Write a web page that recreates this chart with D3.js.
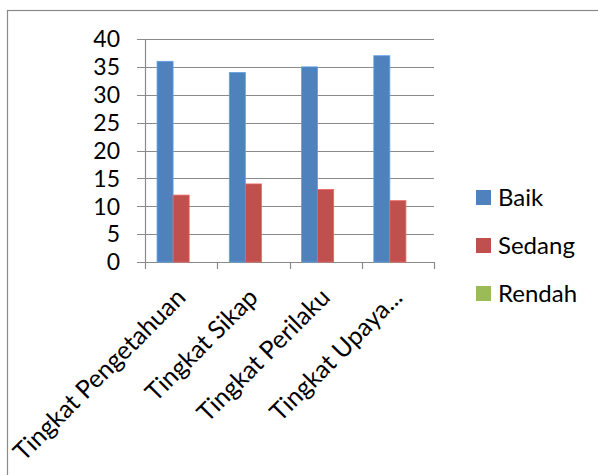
<!DOCTYPE html>
<html><head><meta charset="utf-8">
<script src="https://cdn.jsdelivr.net/npm/d3@7"></script>
<style>html,body{margin:0;padding:0;background:#fff;}svg{display:block;font-family:Lato,"Open Sans",sans-serif;}</style>
</head><body>
<svg id="c" width="598" height="475"></svg>
<script>
const categories = ["Tingkat Pengetahuan", "Tingkat Sikap", "Tingkat Perilaku", "Tingkat Upaya..."];
const seriesNames = ["Baik", "Sedang", "Rendah"];
const baik = [36, 34, 35, 37];
const sedang = [12, 14, 13, 11];
const rendah = [0, 0, 0, 0];
const yTicks = [0, 5, 10, 15, 20, 25, 30, 35, 40];
const colors = ["#4F81BD", "#C0504D", "#9BBB59"];
const seriesValues = [baik, sedang, rendah];

const svg = d3.select("#c");
const pLeft = 145, pRight = 434, pTop = 39, pBottom = 262;
const axisColor = "#8a8a8a";

// chart border (clipped at right/bottom)
svg.append("rect").attr("x", 7.5).attr("y", 10.5).attr("width", 700).attr("height", 600)
  .attr("fill", "none").attr("stroke", axisColor).attr("stroke-width", 1.2);

const x0 = d3.scaleBand().domain(categories).range([pLeft, pRight]).paddingInner(0).paddingOuter(0);
const bw = x0.bandwidth();
const x1 = d3.scaleBand().domain(seriesNames).range([0, bw]).paddingInner(0).paddingOuter(0.75);
const y = d3.scaleLinear().domain([0, 40]).range([pBottom, pTop]);

// gridlines
svg.append("g").selectAll("line").data(yTicks).join("line")
  .attr("x1", pLeft - 8).attr("x2", pRight)
  .attr("y1", d => Math.round(y(d)) + 0.5).attr("y2", d => Math.round(y(d)) + 0.5)
  .attr("stroke", axisColor).attr("stroke-width", 1.2);

// y labels
svg.append("g").selectAll("text").data(yTicks).join("text")
  .attr("x", 120).attr("y", d => y(d)).attr("dy", "0.36em")
  .attr("text-anchor", "end").attr("font-size", 23).attr("fill", "#000")
  .text(d => d);

// bars
const groups = svg.append("g").selectAll("g").data(categories).join("g")
  .attr("transform", d => `translate(${x0(d)},0)`);
groups.selectAll("rect").data((d, i) => seriesNames.map((s, j) => ({s, v: seriesValues[j][i], j})))
  .join("rect")
  .attr("x", d => x1(d.s)).attr("width", x1.bandwidth())
  .attr("y", d => y(d.v)).attr("height", d => y(0) - y(d.v))
  .attr("fill", d => colors[d.j])
  .attr("stroke", d => d3.color(colors[d.j]).brighter(0.6)).attr("stroke-width", 0.8);

// y axis line
svg.append("line").attr("x1", pLeft + 0.5).attr("x2", pLeft + 0.5).attr("y1", pTop).attr("y2", pBottom)
  .attr("stroke", axisColor).attr("stroke-width", 1.2);

// category ticks
const bounds = categories.map(c => x0(c)).concat([pRight]);
svg.append("g").selectAll("line").data(bounds).join("line")
  .attr("x1", d => Math.round(d) + 0.5).attr("x2", d => Math.round(d) + 0.5)
  .attr("y1", pBottom).attr("y2", pBottom + 7)
  .attr("stroke", axisColor).attr("stroke-width", 1.2);

// x labels
svg.append("g").selectAll("text").data(categories).join("text")
  .attr("transform", d => `translate(${x0(d) + bw / 2 + 6},${pBottom + 37}) rotate(-45)`)
  .attr("text-anchor", "end").attr("font-size", 25).attr("fill", "#000")
  .text(d => d);

// legend
const leg = svg.append("g").selectAll("g").data(seriesNames).join("g")
  .attr("transform", (d, i) => `translate(476,${190 + i * 48})`);
leg.append("rect").attr("width", 15).attr("height", 15).attr("fill", (d, i) => colors[i]);
leg.append("text").attr("x", 22).attr("y", 7.5).attr("dy", "0.36em")
  .attr("font-size", 24).attr("fill", "#000").text(d => d);
</script>
</body></html>
